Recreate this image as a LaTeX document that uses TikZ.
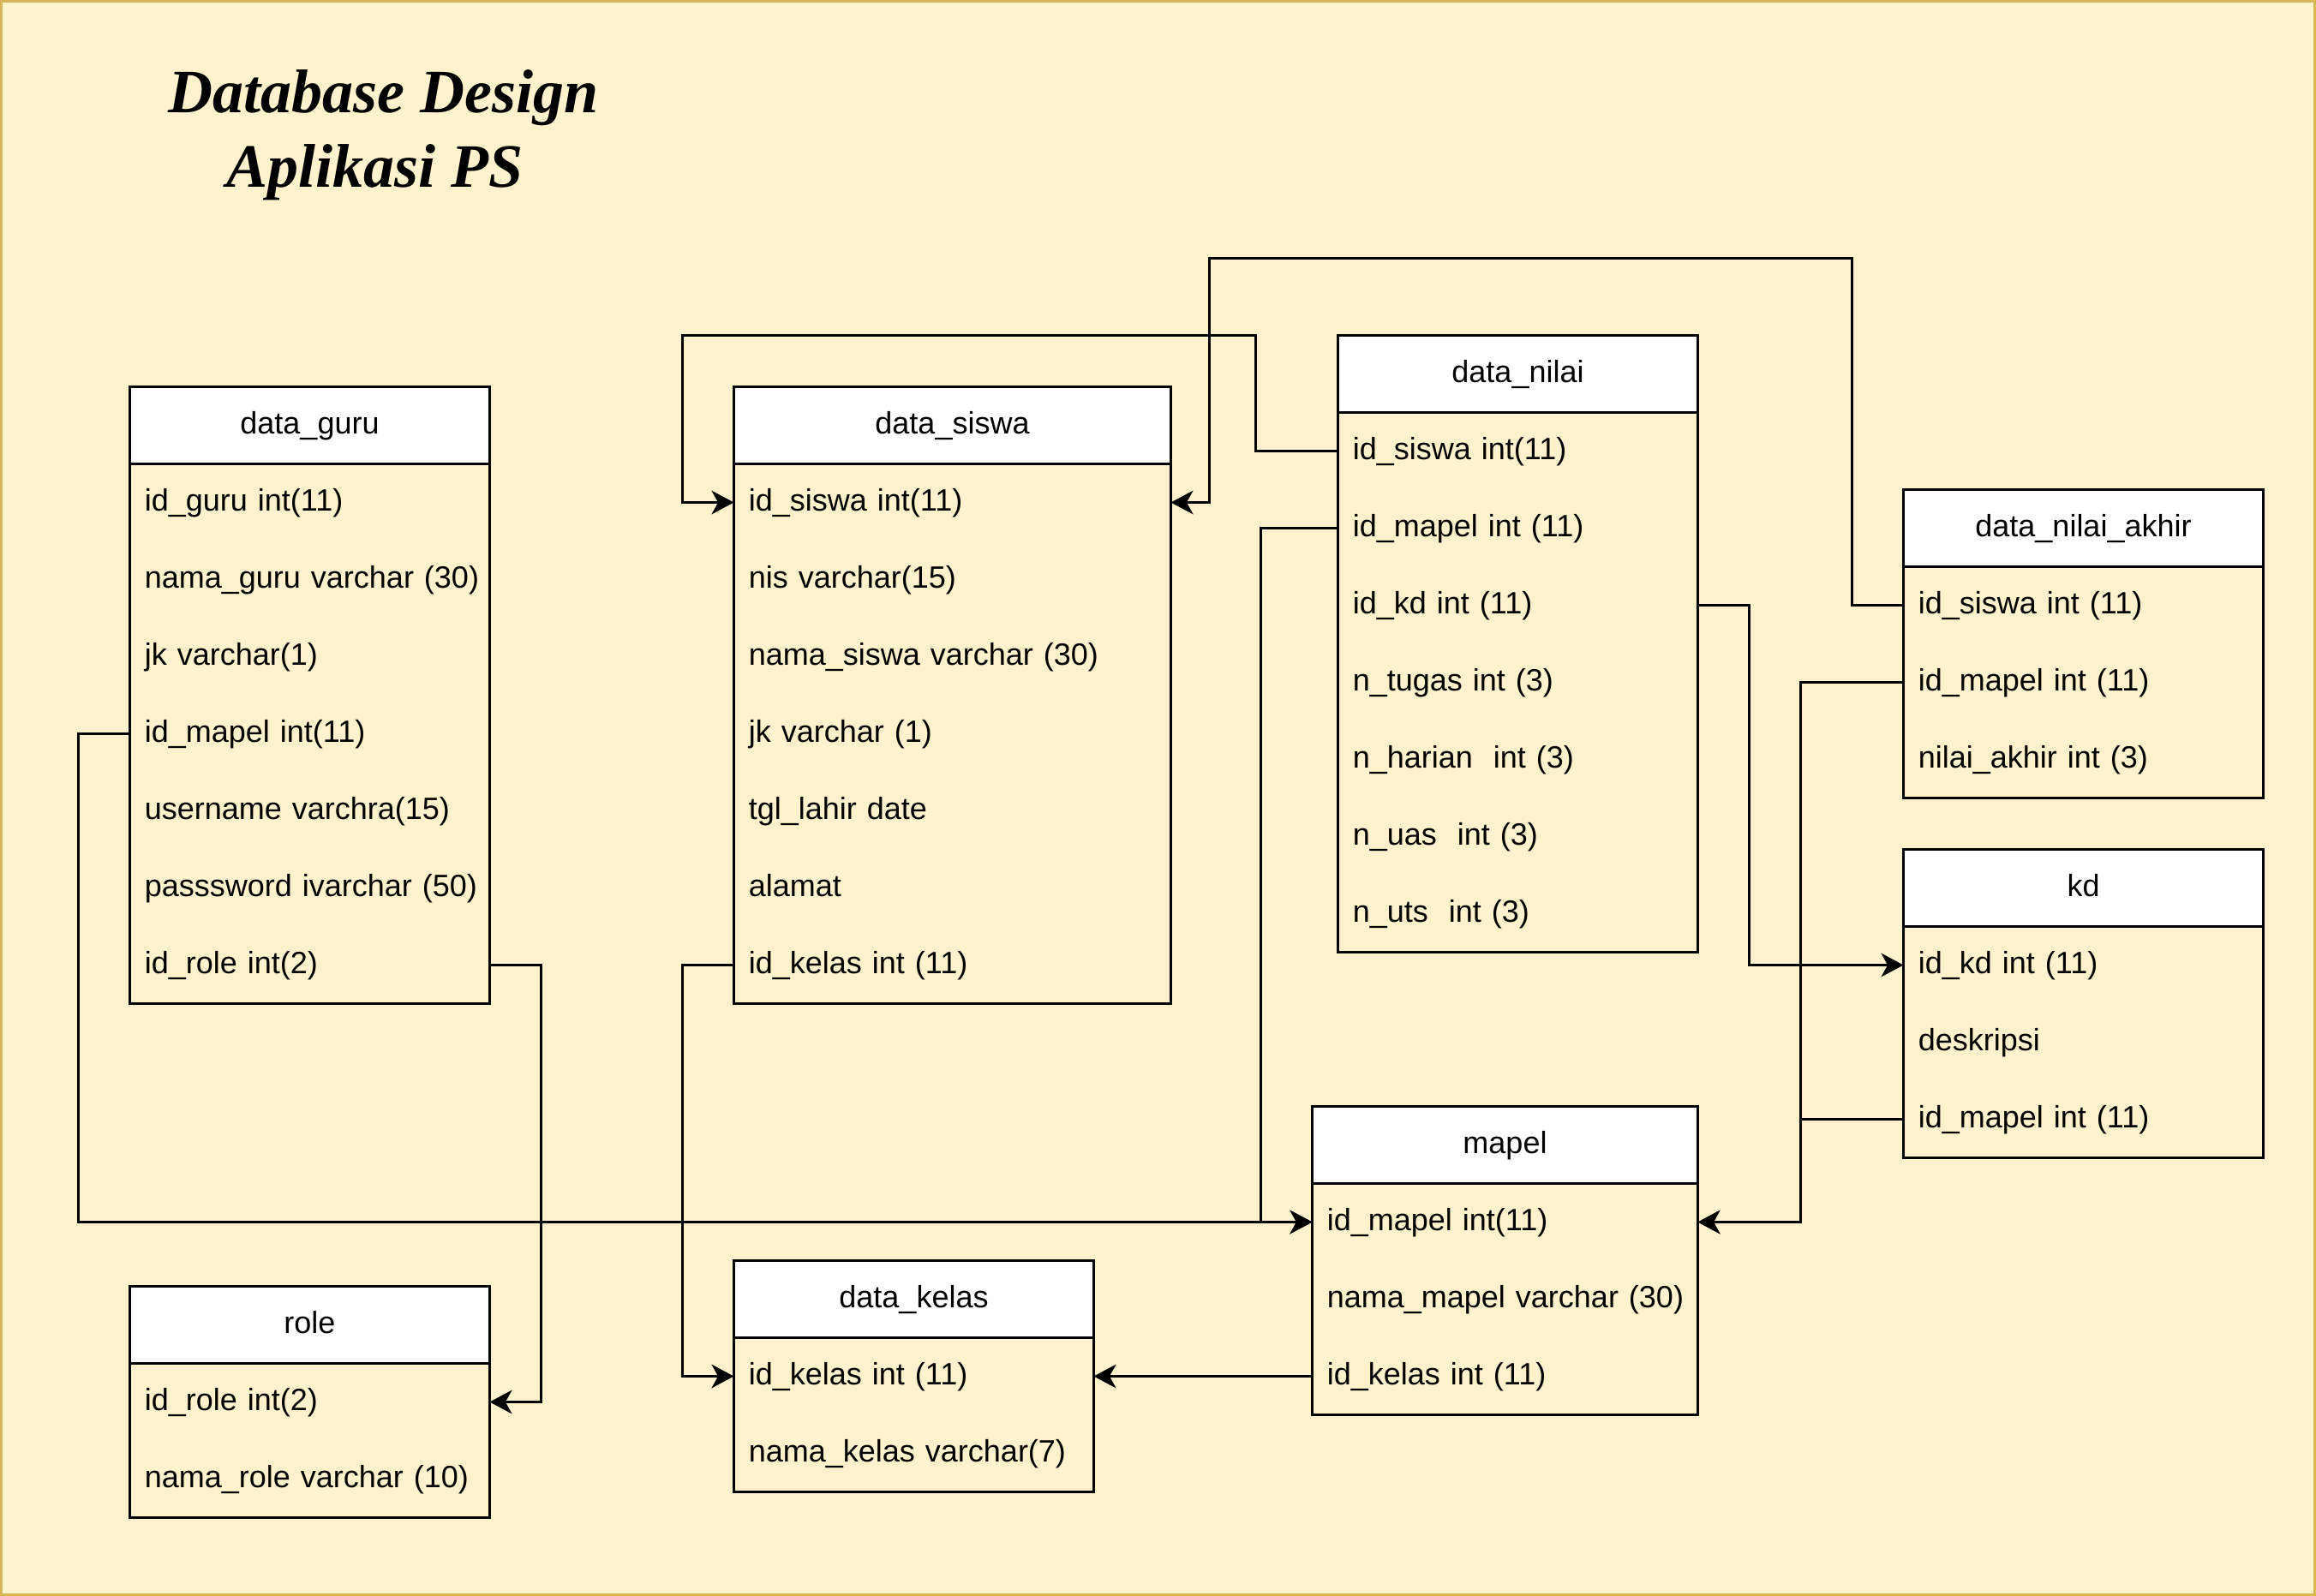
\documentclass[tikz,border=0pt]{standalone}
\usepackage{fontspec}
\setmainfont{Liberation Sans}
\newfontfamily\titlefont{Liberation Serif}
\usetikzlibrary{arrows.meta}
\definecolor{bgc}{HTML}{FFF2CC}
\definecolor{bdc}{HTML}{D6B656}
\tikzset{
 hdr/.style={draw, fill=white, line width=0.75pt, anchor=north west, minimum height=22.5pt, inner sep=0pt, outer sep=0pt, text height=6.75pt, text depth=1.95pt, font=\fontsize{9}{10.8}\selectfont},
 rowbox/.style={anchor=north west, minimum height=22.5pt, inner ysep=0pt, inner xsep=4.35pt, outer sep=0pt, align=left, text height=6.75pt, text depth=1.95pt, font=\fontsize{9}{10.8}\selectfont},
 tbl/.style={draw, line width=0.75pt},
 conn/.style={draw, line width=0.75pt, -{Stealth[length=6.5pt,width=6.9pt,inset=1.9pt]}},
 ttl/.style={anchor=base, inner sep=0pt, font=\titlefont\fontsize{18}{21.6}\selectfont\bfseries\itshape},
}
\newcommand\ertable[7]{%
 \node[hdr, minimum width={#4*0.75pt}] (#1) at (#2,#3) {#6};
 \foreach \rowtext [count=\i] in {#7} {
   \node[rowbox, text width={(#4*0.75pt-8.7pt)}] (#1-\i) at (#2,#3+30*\i) {\mbox{\rowtext}};
 }
 \draw[tbl] (#2,#3) rectangle ++(#4,30+30*#5);
}
\begin{document}
\begin{tikzpicture}[x=0.75pt,y=-0.75pt]
\useasboundingbox (0,0) rectangle (901,621);
\fill[bgc] (0,0) rectangle (901,621);
\draw[bdc, line width=0.75pt] (0.5,0.5) rectangle (900.5,620.5);

\node[ttl] (title1) at (149.2,43.9) {Database Design};
\node[ttl] (title2) at (145.8,72.8) {Aplikasi PS};

\ertable{guru}{50.5}{150.5}{140}{7}{data\_guru}{{id\_guru int(11)},{nama\_guru varchar (30)},{jk varchar(1)},{id\_mapel int(11)},{username varchra(15)},{passsword ivarchar (50)},{id\_role int(2)}}
\ertable{siswa}{285.5}{150.5}{170}{7}{data\_siswa}{{id\_siswa int(11)},{nis varchar(15)},{nama\_siswa varchar (30)},{jk varchar (1)},{tgl\_lahir date},{alamat},{id\_kelas int (11)}}
\ertable{nilai}{520.5}{130.5}{140}{7}{data\_nilai}{{id\_siswa int(11)},{id\_mapel int (11)},{id\_kd int (11)},{n\_tugas int (3)},{n\_harian\ \ int (3)},{n\_uas\ \ int (3)},{n\_uts\ \ int (3)}}
\ertable{akhir}{740.5}{190.5}{140}{3}{data\_nilai\_akhir}{{id\_siswa int (11)},{id\_mapel int (11)},{nilai\_akhir int (3)}}
\ertable{kd}{740.5}{330.5}{140}{3}{kd}{{id\_kd int (11)},{deskripsi},{id\_mapel int (11)}}
\ertable{mapel}{510.5}{430.5}{150}{3}{mapel}{{id\_mapel int(11)},{nama\_mapel varchar (30)},{id\_kelas int (11)}}
\ertable{kelas}{285.5}{490.5}{140}{2}{data\_kelas}{{id\_kelas int (11)},{nama\_kelas varchar(7)}}
\ertable{role}{50.5}{500.5}{140}{2}{role}{{id\_role int(2)},{nama\_role varchar (10)}}

\draw[conn] (guru-4.west) -- ++(-20,0) |- (mapel-1.west);
\draw[conn] (nilai-2.west) -- ++(-30,0) |- (mapel-1.west);
\draw[conn] (guru-7.east) -- ++(20,0) |- (role-1.east);
\draw[conn] (siswa-7.west) -- ++(-20,0) |- (kelas-1.west);
\draw[conn] (mapel-3.west) -- (kelas-1.east);
\draw[conn] (nilai-1.west) -- ++(-32,0) -- ++(0,-45) -| ++(-223,65) -- (siswa-1.west);
\draw[conn] (akhir-1.west) -- ++(-20,0) -- ++(0,-135) -| ++(-250,95) -- (siswa-1.east);
\draw[conn] (akhir-2.west) -- ++(-40,0) |- (mapel-1.east);
\draw[conn] (kd-3.west) -- ++(-40,0) |- (mapel-1.east);
\draw[conn] (nilai-3.east) -- ++(20,0) |- (kd-1.west);
\end{tikzpicture}
\end{document}
